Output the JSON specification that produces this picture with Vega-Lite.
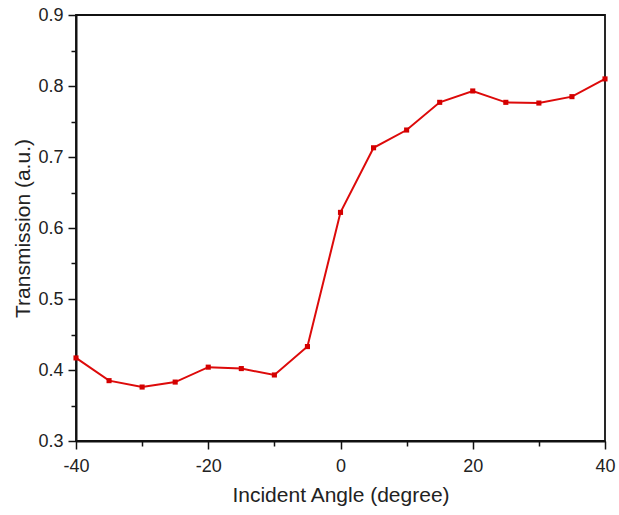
{
  "$schema": "https://vega.github.io/schema/vega-lite/v6.json",
  "width": 529,
  "height": 426,
  "autosize": "none",
  "padding": {"left": 76, "top": 15, "right": 14, "bottom": 74},
  "config": {
    "font": "Liberation Sans",
    "view": {"stroke": "#111", "strokeWidth": 1.8},
    "axis": {"grid": false, "domainColor": "#111", "tickColor": "#111", "labelColor": "#222", "titleColor": "#222"}
  },
  "data": {
    "values": [
      {"angle": -40, "t": 0.417},
      {"angle": -35, "t": 0.385},
      {"angle": -30, "t": 0.376},
      {"angle": -25, "t": 0.383},
      {"angle": -20, "t": 0.404},
      {"angle": -15, "t": 0.402},
      {"angle": -10, "t": 0.393},
      {"angle": -5, "t": 0.433},
      {"angle": 0, "t": 0.622},
      {"angle": 5, "t": 0.713},
      {"angle": 10, "t": 0.738},
      {"angle": 15, "t": 0.777},
      {"angle": 20, "t": 0.793},
      {"angle": 25, "t": 0.777},
      {"angle": 30, "t": 0.776},
      {"angle": 35, "t": 0.785},
      {"angle": 40, "t": 0.810}
    ]
  },
  "layer": [
    {
      "mark": {"type": "line", "color": "#dd0a0a", "strokeWidth": 2, "point": {"shape": "square", "size": 26, "filled": true, "color": "#d40000", "opacity": 1}},
      "encoding": {
        "x": {"field": "angle", "type": "quantitative", "scale": {"domain": [-40, 40], "nice": false, "zero": false},
          "axis": {"orient": "bottom", "values": [-40, -20, 0, 20, 40], "labelExpr": "replace(datum.label, '\u2212', '-')", "tickSize": 8, "tickWidth": 1.5, "domainWidth": 2, "labelFontSize": 18, "labelPadding": 8, "labelFlush": false, "title": "Incident Angle (degree)", "titleFontSize": 21, "titleFontWeight": "normal", "titlePadding": 9}},
        "y": {"field": "t", "type": "quantitative", "scale": {"domain": [0.3, 0.9], "nice": false, "zero": false},
          "axis": {"orient": "left", "values": [0.3, 0.4, 0.5, 0.6, 0.7, 0.8, 0.9], "format": ".1f", "tickSize": 8, "tickWidth": 1.5, "domainWidth": 2, "labelFontSize": 18, "labelPadding": 5, "labelFlush": false, "title": "Transmission (a.u.)", "titleFontSize": 21, "titleFontWeight": "normal", "titlePadding": 4}}
      }
    },
    {
      "mark": {"type": "point", "opacity": 0},
      "encoding": {
        "x": {"field": "angle", "type": "quantitative",
          "axis": {"orient": "bottom", "values": [-30, -10, 10, 30], "labels": false, "domain": false, "tickSize": 5, "tickWidth": 1.5, "title": null}},
        "y": {"field": "t", "type": "quantitative",
          "axis": {"orient": "left", "values": [0.35, 0.45, 0.55, 0.65, 0.75, 0.85], "labels": false, "domain": false, "tickSize": 5, "tickWidth": 1.5, "title": null}}
      }
    }
  ],
  "resolve": {"axis": {"x": "independent", "y": "independent"}}
}
